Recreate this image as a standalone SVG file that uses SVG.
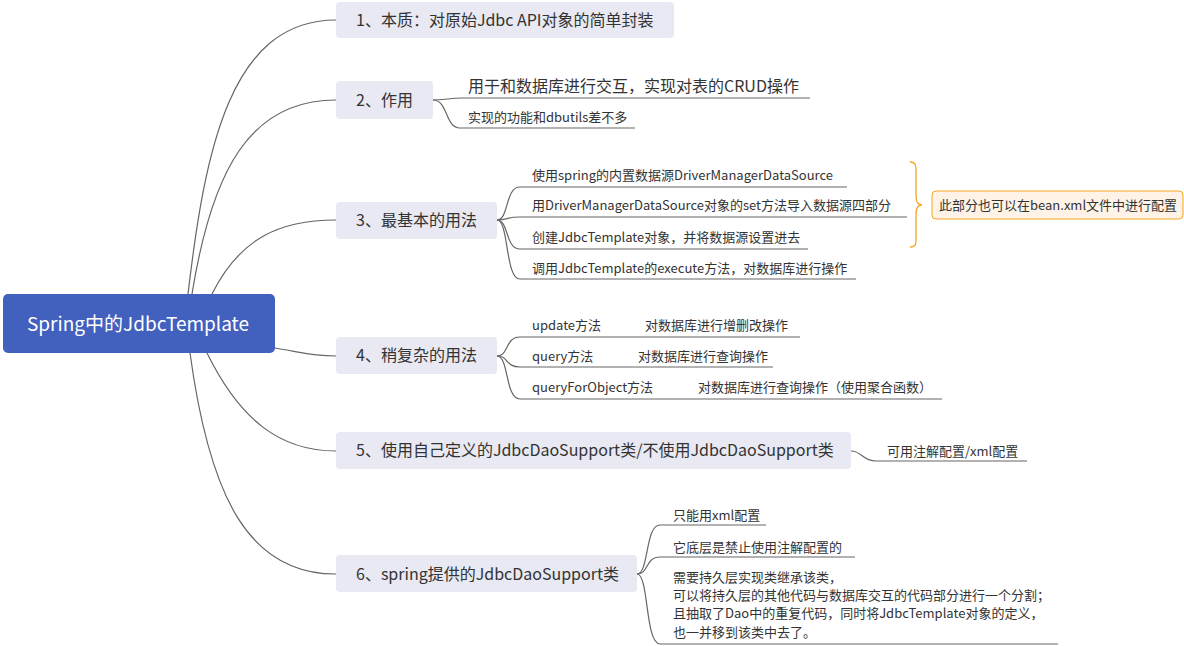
<svg xmlns="http://www.w3.org/2000/svg" width="1184" height="646" viewBox="0 0 1184 646">
<style>
.t{font-family:"Noto Sans CJK SC","Liberation Sans",sans-serif;fill:#333}
.b{font-size:16px}
.s{font-size:13px}
.br{fill:#E8E9F2}
.ln{fill:none;stroke:#666;stroke-width:1.2}
</style>
<rect width="1184" height="646" fill="#fff"/>
<g id="connectors">
<path class="ln" d="M188 294 C205 150,230 20,336 20"/>
<path class="ln" d="M192 294 C212 170,250 100,336 100"/>
<path class="ln" d="M212 294 C240 238,280 220,336 220"/>
<path class="ln" d="M275 348 C300 352,310 356,336 356"/>
<path class="ln" d="M207 353 C240 420,280 451,336 451"/>
<path class="ln" d="M190 353 C210 500,250 574,336 574"/>
<path class="ln" d="M433 100 C445 100,450 98,462 98 L810 98"/>
<path class="ln" d="M433 100 C448 100,445 128,460 128 L635 128"/>
<path class="ln" d="M497 220 C509 220,505 187,520 187 L847 187"/>
<path class="ln" d="M497 220 C509 220,505 217,520 217 L907 217"/>
<path class="ln" d="M497 220 C509 220,505 249,520 249 L808 249"/>
<path class="ln" d="M497 220 C509 220,505 279,520 279 L856 279"/>
<path class="ln" d="M497 356 C509 356,505 337,520 337 L800 337"/>
<path class="ln" d="M497 356 C509 356,505 367,520 367 L773 367"/>
<path class="ln" d="M497 356 C509 356,505 399,520 399 L942 399"/>
<path class="ln" d="M851 451 C862 451,862 461,876 461 L1027 461"/>
<path class="ln" d="M637 574 C649 574,645 525,660 525 L766 525"/>
<path class="ln" d="M637 574 C649 574,645 557,660 557 L855 557"/>
<path class="ln" d="M637 574 C649 574,645 644,660 644 L1058 644"/>
</g>
<g id="root">
<rect x="3" y="294" width="272" height="59" rx="5" fill="#4260BE"/>
<text x="138" y="331" text-anchor="middle" font-family="Noto Sans CJK SC, Liberation Sans, sans-serif" font-size="19" fill="#fff">Spring中的JdbcTemplate</text>
</g>
<g id="n1"><rect class="br" x="336" y="2" width="338" height="36" rx="4"/><text class="t b" x="356" y="26">1、本质：对原始Jdbc API对象的简单封装</text></g>
<g id="n2"><rect class="br" x="336" y="81" width="97" height="38" rx="4"/><text class="t b" x="356" y="106">2、作用</text></g>
<g id="n2a"><text class="t b" x="468" y="92">用于和数据库进行交互，实现对表的CRUD操作</text></g>
<g id="n2b"><text class="t s" x="468" y="122">实现的功能和dbutils差不多</text></g>
<g id="n3"><rect class="br" x="336" y="202" width="161" height="37" rx="4"/><text class="t b" x="356" y="226">3、最基本的用法</text></g>
<g id="n3a"><text class="t s" x="532" y="180">使用spring的内置数据源DriverManagerDataSource</text></g>
<g id="n3b"><text class="t s" x="532" y="210">用DriverManagerDataSource对象的set方法导入数据源四部分</text></g>
<g id="n3c"><text class="t s" x="532" y="242">创建JdbcTemplate对象，并将数据源设置进去</text></g>
<g id="n3d"><text class="t s" x="532" y="273">调用JdbcTemplate的execute方法，对数据库进行操作</text></g>
<g id="brace"><path d="M910 162 C916 162,916 166,916 172 L916 196 C916 202,918 205,922 205 C918 205,916 208,916 214 L916 238 C916 244,916 247,910 247" fill="none" stroke="#F5A623" stroke-width="1.3"/></g>
<g id="note"><rect x="932" y="191" width="251" height="28" rx="4" fill="#FEF3E6" stroke="#F5A623" stroke-width="1"/><text class="t s" x="939" y="210">此部分也可以在bean.xml文件中进行配置</text></g>
<g id="n4"><rect class="br" x="336" y="337" width="161" height="37" rx="4"/><text class="t b" x="356" y="361">4、稍复杂的用法</text></g>
<g id="n4a"><text class="t s" x="532" y="330">update方法</text><text class="t s" x="645" y="330">对数据库进行增删改操作</text></g>
<g id="n4b"><text class="t s" x="532" y="361">query方法</text><text class="t s" x="638" y="361">对数据库进行查询操作</text></g>
<g id="n4c"><text class="t s" x="532" y="392">queryForObject方法</text><text class="t s" x="698" y="392">对数据库进行查询操作（使用聚合函数）</text></g>
<g id="n5"><rect class="br" x="336" y="432" width="515" height="37" rx="4"/><text class="t b" x="356" y="456">5、使用自己定义的JdbcDaoSupport类/不使用JdbcDaoSupport类</text></g>
<g id="n5a"><text class="t s" x="887" y="456">可用注解配置/xml配置</text></g>
<g id="n6"><rect class="br" x="336" y="555" width="301" height="37" rx="4"/><text class="t b" x="356" y="580">6、spring提供的JdbcDaoSupport类</text></g>
<g id="n6a"><text class="t s" x="673" y="520">只能用xml配置</text></g>
<g id="n6b"><text class="t s" x="673" y="552">它底层是禁止使用注解配置的</text></g>
<g id="n6c"><text class="t s" x="673" y="582">需要持久层实现类继承该类，</text><text class="t s" x="673" y="600">可以将持久层的其他代码与数据库交互的代码部分进行一个分割；</text><text class="t s" x="673" y="618">且抽取了Dao中的重复代码，同时将JdbcTemplate对象的定义，</text><text class="t s" x="673" y="637">也一并移到该类中去了。</text></g>
</svg>
